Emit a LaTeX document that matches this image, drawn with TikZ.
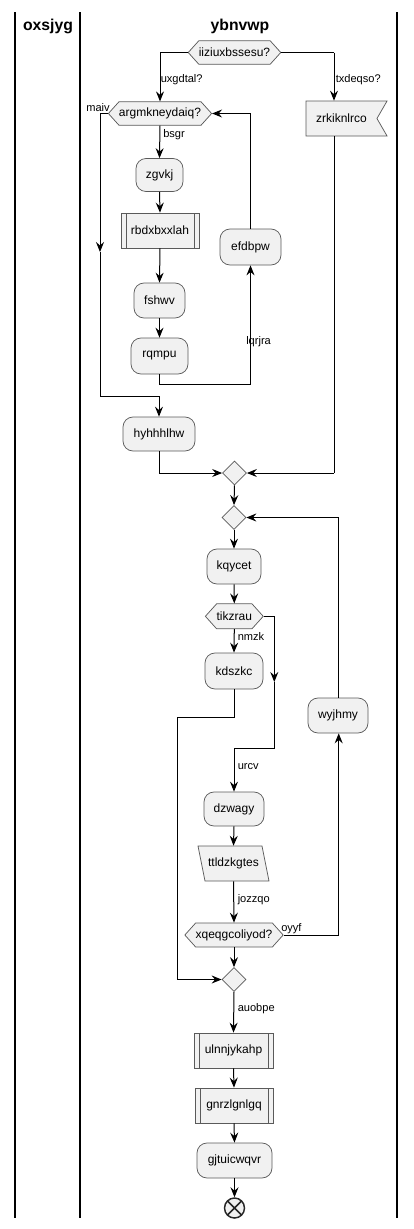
\documentclass[tikz,border=0pt]{standalone}
\usepackage{fontspec}
\setmainfont{Liberation Sans}
\usetikzlibrary{arrows.meta,shapes.geometric,shapes.symbols,calc}
\definecolor{boxfill}{HTML}{F1F1F1}
\definecolor{boxline}{HTML}{5A5A5A}
\def\px{0.75pt}
\tikzset{
  base/.style={draw=boxline, fill=boxfill, line width=0.55pt, inner sep=0pt, font=\fontsize{9pt}{10pt}\selectfont},
  act/.style={base, rectangle, rounded corners=7.5pt, minimum width=#1*\px, minimum height=34*\px},
  sub/.style={base, rectangle, minimum width=#1*\px, minimum height=35*\px,
    path picture={\draw[boxline, line width=0.55pt]
      ([xshift=3.75pt]path picture bounding box.north west) -- ([xshift=3.75pt]path picture bounding box.south west)
      ([xshift=-3.75pt]path picture bounding box.north east) -- ([xshift=-3.75pt]path picture bounding box.south east);}},
  hexa/.style={base, signal, signal to=east and west, signal pointer angle=96, minimum width=#1*\px, minimum height=23.5*\px},
  merge/.style={base, diamond, minimum width=24*\px, minimum height=24*\px, aspect=1},
  flow/.style={line width=0.75pt, -{Stealth[length=7.5pt, width=6pt, inset=2.6pt]}},
  plain/.style={line width=0.75pt},
  lbl/.style={font=\fontsize{8.3pt}{9pt}\selectfont, inner sep=0pt},
  lane/.style={line width=1.1pt},
  title/.style={font=\fontsize{11.8pt}{13pt}\selectfont\bfseries, inner sep=0pt}
}
\begin{document}
\begin{tikzpicture}[x=0.75pt, y=-0.75pt]
\useasboundingbox (0,0) rectangle (414,1229);
% lanes
\draw[lane] (15,12) -- (15,1218);
\draw[lane] (80,12) -- (80,1218);
\draw[lane] (397,12) -- (397,1218);
\node[title] (t1) at (48,26) {oxsjyg};
\node[title] (t2) at (240,26) {ybnvwp};

% nodes
\node[hexa=89] (d1) at (234.5,52.5) {iiziuxbssesu?};
\node[hexa=95] (d2) at (160,113.5) {argmkneydaiq?};
\node[base, signal, signal to=nowhere, signal from=east, signal pointer angle=120, minimum width=81*\px, minimum height=35*\px, text width=60*\px, align=center] (zr) at (341.5,118.5) {zrkiknlrco};
\node[act=47, minimum height=33*\px] (zg) at (159.5,175) {zgvkj};
\node[sub=78] (rb) at (160,230.5) {rbdxbxxlah};
\node[act=61, minimum height=36*\px] (ef) at (250.5,247) {efdbpw};
\node[act=51, minimum height=35*\px] (fs) at (159.5,300.5) {fshwv};
\node[act=57, minimum height=36*\px] (rq) at (159.5,356) {rqmpu};
\node[act=72, minimum height=34*\px] (hy) at (159,434) {hyhhhlhw};
\node[merge] (m1) at (234.5,473) {};
\node[merge] (m2) at (234,517.5) {};
\node[act=54, minimum height=35*\px] (kq) at (234,566.5) {kqycet};
\node[hexa=57, minimum height=25*\px] (ti) at (234.3,616.3) {tikzrau};
\node[act=58, minimum height=36*\px] (kd) at (234,671) {kdszkc};
\node[act=60, minimum height=35*\px] (wy) at (338,715.5) {wyjhmy};
\node[act=60, minimum height=34*\px] (dz) at (234,809) {dzwagy};
\draw[draw=boxline, fill=boxfill, line width=0.55pt] (198,846) -- (262,846) -- (269,881) -- (205,881) -- cycle;
\node[inner sep=0pt, minimum width=71*\px, minimum height=35*\px, font=\fontsize{9pt}{10pt}\selectfont] (tt) at (233.5,863.5) {ttldzkgtes};
\node[hexa=94, minimum height=24*\px] (xq) at (234,935) {xqeqgcoliyod?};
\node[merge] (m3) at (234,979.5) {};
\node[sub=79] (ul) at (233.5,1050.5) {ulnnjykahp};
\node[sub=78] (gn) at (234,1105.5) {gnrzlgnlgq};
\node[act=75, minimum height=35*\px] (gj) at (234.5,1160.5) {gjtuicwqvr};
\node[draw=black!85, fill=boxfill, circle, line width=1.1pt, minimum size=20*\px, inner sep=0pt] (en) at (234.5,1208) {};
\draw[line width=1.1pt, black!85] ($(en.center)+(-7,-7)$) -- ($(en.center)+(7,7)$) ($(en.center)+(-7,7)$) -- ($(en.center)+(7,-7)$);

% helper coordinates
\coordinate (c1) at (160,52.5);
\coordinate (c2) at (334,52.5);
\coordinate (c3) at (100,113.5);
\coordinate (c3a) at (100,252);
\coordinate (c3b) at (100,396);
\coordinate (c3c) at (159,396);
\coordinate (c4) at (159.5,384);
\coordinate (c4a) at (250.5,384);
\coordinate (c5) at (250.5,113.5);
\coordinate (c6) at (159,473);
\coordinate (c7) at (334,473);
\coordinate (c8) at (338,517.5);
\coordinate (c9) at (274.3,616.3);
\coordinate (c9a) at (274.3,682);
\coordinate (c9b) at (274.3,748);
\coordinate (c9c) at (234,748);
\coordinate (c10) at (234,717);
\coordinate (c10a) at (177,717);
\coordinate (c10b) at (177,979.5);
\coordinate (c11) at (338.7,935);

% connectors
\draw[plain] (d1.west) -- (c1);
\draw[flow] (c1) -- (d2.north);
\draw[plain] (d1.east) -- (c2);
\draw[flow] (c2) -- (zr.north -| c2);
\draw[flow] (d2.south) -- (zg.north);
\draw[flow] (zg.south) -- (rb.north);
\draw[flow] (rb.south) -- (fs.north);
\draw[flow] (fs.south) -- (rq.north);
\draw[plain] (rq.south) -- (c4) -- (c4a);
\draw[flow] (c4a) -- (ef.south);
\draw[plain] (ef.north) -- (c5);
\draw[flow] (c5) -- (d2.east);
\draw[plain] (d2.west) -- (c3);
\draw[flow] (c3) -- (c3a);
\draw[plain] (c3a) -- (c3b) -- (c3c);
\draw[flow] (c3c) -- (hy.north);
\draw[plain] (hy.south) -- (c6);
\draw[flow] (c6) -- (m1.west);
\draw[plain] (zr.south -| c2) -- (c7);
\draw[flow] (c7) -- (m1.east);
\draw[flow] (m1.south) -- (m2.north);
\draw[flow] (m2.south) -- (kq.north);
\draw[flow] (kq.south) -- (ti.north);
\draw[flow] (ti.south) -- (kd.north);
\draw[plain] (ti.east) -- (c9);
\draw[flow] (c9) -- (c9a);
\draw[plain] (c9a) -- (c9b) -- (c9c);
\draw[flow] (c9c) -- (dz.north);
\draw[flow] (dz.south) -- (tt.north);
\draw[flow] (tt.south) -- (xq.north);
\draw[plain] (xq.east) -- (c11);
\draw[flow] (c11) -- (wy.south -| c11);
\draw[plain] (wy.north -| c11) -- (c8 -| c11);
\draw[flow] (c8 -| c11) -- (m2.east);
\draw[flow] (xq.south) -- (m3.north);
\draw[plain] (kd.south) -- (c10) -- (c10a) -- (c10b);
\draw[flow] (c10b) -- (m3.west);
\draw[flow] (m3.south) -- (ul.north);
\draw[flow] (ul.south) -- (gn.north);
\draw[flow] (gn.south) -- (gj.north);
\draw[flow] (gj.south) -- (en.north);

% labels
\node[lbl, anchor=west] (l1) at (160.5,80) {uxgdtal?};
\node[lbl, anchor=west] (l2) at (335.5,80) {txdeqso?};
\node[lbl, anchor=east] (l3) at (110,108) {maiv};
\node[lbl, anchor=west] (l4) at (163,135) {bsgr};
\node[lbl, anchor=west] (l5) at (246,342) {lqrjra};
\node[lbl, anchor=west] (l6) at (237.5,636.5) {nmzk};
\node[lbl, anchor=west] (l7) at (237.5,767) {urcv};
\node[lbl, anchor=west] (l8) at (237.5,900) {jozzqo};
\node[lbl, anchor=west] (l9) at (281,929) {oyyf};
\node[lbl, anchor=west] (l10) at (237.5,1009) {auobpe};
\end{tikzpicture}
\end{document}
